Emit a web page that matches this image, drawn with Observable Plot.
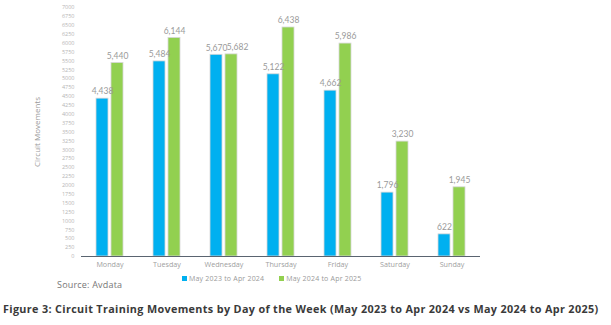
<!DOCTYPE html>
<html>
<head>
<meta charset="utf-8">
<script src="https://cdn.jsdelivr.net/npm/d3@7"></script>
<script src="https://cdn.jsdelivr.net/npm/@observablehq/plot@0.6"></script>
<style>
  html, body { margin: 0; padding: 0; background: #fff; }
  #wrap { position: relative; width: 611px; height: 325px; font-family: "Open Sans", sans-serif; overflow: hidden; }
  #chart { position: absolute; left: 0; top: 0; }
  .legend { position: absolute; top: 274px; left: 182px; font-size: 7px; color: #9a9a9a; white-space: nowrap; letter-spacing: 0.2px; }
  .legend span.item { margin-right: 15px; }
  .legend i { display: inline-block; width: 5px; height: 5px; margin-right: 2px; vertical-align: 0px; }
  .source { position: absolute; top: 278px; left: 57px; font-size: 9px; color: #777; letter-spacing: 0.2px; }
  .title { position: absolute; top: 301px; left: 3px; font-size: 10.8px; font-weight: bold; color: #3a3a3a; white-space: nowrap; letter-spacing: 0.35px; }
</style>
</head>
<body>
<div id="wrap">
  <div id="chart"></div>
  <div class="legend"></div>
  <div class="source">Source: Avdata</div>
  <div class="title">Figure 3: Circuit Training Movements by Day of the Week (May 2023 to Apr 2024 vs May 2024 to Apr 2025)</div>
</div>
<script>
const days = ["Monday", "Tuesday", "Wednesday", "Thursday", "Friday", "Saturday", "Sunday"];
const seriesNames = ["May 2023 to Apr 2024", "May 2024 to Apr 2025"];
const values2023 = [4438, 5484, 5670, 5122, 4662, 1796, 622];
const values2024 = [5440, 6144, 5682, 6438, 5986, 3230, 1945];
const yTicks = d3.range(0, 7001, 250);
const colors = ["#00B0F0", "#92D050"];

const data = [];
days.forEach((d, i) => {
  data.push({day: d, series: seriesNames[0], value: values2023[i]});
  data.push({day: d, series: seriesNames[1], value: values2024[i]});
});

// Wednesday's second label is nudged right to avoid collision (as in the original)
const crowded = d => d.day === "Wednesday" && d.series === seriesNames[1];
const fmt = d3.format(",");

const chart = Plot.plot({
  width: 611,
  height: 272,
  marginLeft: 80,
  marginRight: 131,
  marginTop: 7,
  marginBottom: 16,
  style: {fontFamily: "Open Sans, sans-serif", background: "transparent"},
  fx: {domain: days, padding: 0, label: null, axis: null},
  x: {domain: seriesNames, axis: null, paddingInner: 0.19, paddingOuter: 0.88},
  y: {domain: [0, 7000], axis: null},
  color: {domain: seriesNames, range: colors},
  marks: [
    Plot.axisY({ticks: yTicks, tickFormat: d3.format("d"), tickSize: 0, tickPadding: 7, fontSize: 5.5, color: "#b5b5b5", label: null}),
    Plot.text(["Circuit Movements"], {frameAnchor: "left", textAnchor: "middle", dx: -44, rotate: -90, fontSize: 8, fill: "#9a9a9a", facet: "super"}),
    Plot.axisFx({anchor: "bottom", tickSize: 0, tickPadding: 5, fontSize: 7.2, color: "#a0a0a0", label: null, style: {letterSpacing: "0.3px"}}),
    Plot.barY(data, {fx: "day", x: "series", y: "value", fill: "series", stroke: "#d8d8d8", strokeWidth: 0.8}),
    Plot.text(data.filter(d => !crowded(d)), {fx: "day", x: "series", y: "value", text: d => fmt(d.value), dy: -7, fill: "#9a9a9a", fontSize: 8.5, fontFamily: "Lato, sans-serif"}),
    Plot.text(data.filter(crowded), {fx: "day", x: "series", y: "value", text: d => fmt(d.value), dy: -7, dx: 6, fill: "#9a9a9a", fontSize: 8.5, fontFamily: "Lato, sans-serif"}),
    Plot.ruleY([0], {stroke: "#5a6470", strokeWidth: 1})
  ]
});
document.getElementById("chart").appendChild(chart);

const legend = document.querySelector(".legend");
seriesNames.forEach((s, i) => {
  const span = document.createElement("span");
  span.className = "item";
  const sw = document.createElement("i");
  sw.style.background = colors[i];
  span.appendChild(sw);
  span.appendChild(document.createTextNode(s));
  legend.appendChild(span);
});
</script>
</body>
</html>
